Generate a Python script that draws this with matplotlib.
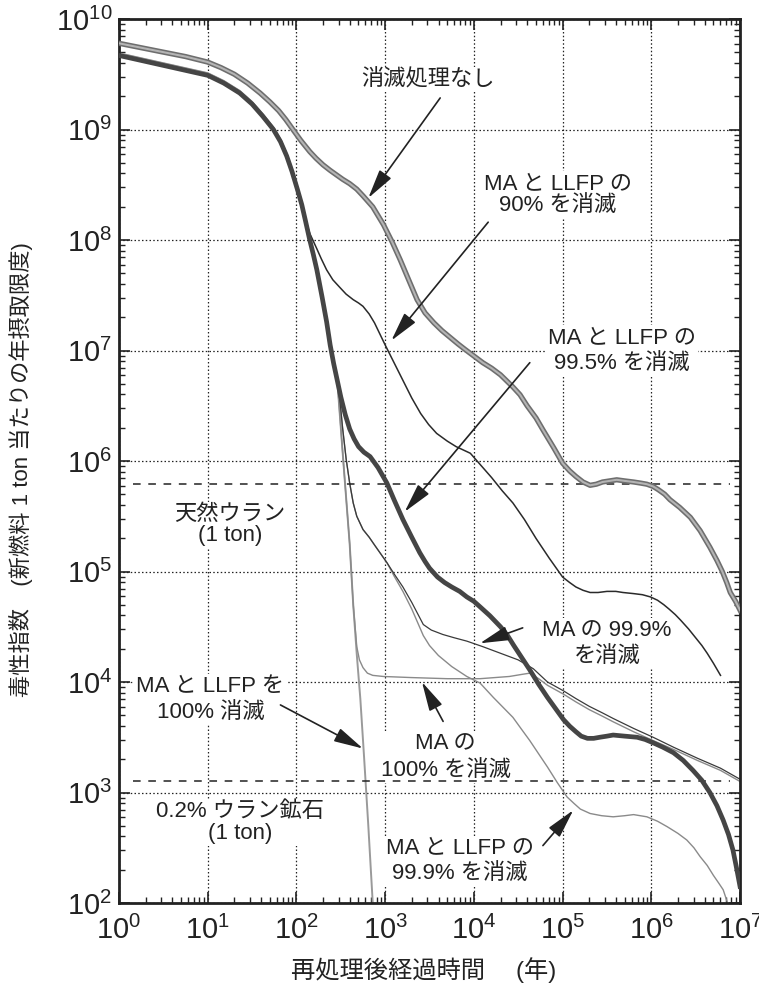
import matplotlib.pyplot as plt
from matplotlib import patheffects as pe
from matplotlib.ticker import LogLocator, NullFormatter
import numpy as np

plt.rcParams['font.family'] = ['Liberation Sans', 'Noto Sans CJK JP']
plt.rcParams['mathtext.fontset'] = 'custom'
plt.rcParams['mathtext.rm'] = 'Liberation Sans'
plt.rcParams['mathtext.it'] = 'Liberation Sans:italic'

# 経過時間 (log10 年) と毒性指数 (log10) の読み取り値
none_t = [0, 0.25, 0.5, 0.75, 1.0, 1.15, 1.3, 1.45, 1.59, 1.7, 1.8, 1.88, 1.96, 2.05,
          2.15, 2.22, 2.30, 2.38, 2.45, 2.52, 2.60, 2.68, 2.75, 2.86, 2.98, 3.08, 3.17,
          3.27, 3.36, 3.45, 3.55, 3.64, 3.73, 3.82, 3.9, 4.0, 4.1, 4.2, 4.3, 4.44, 4.52,
          4.6, 4.7, 4.78, 4.9, 5.0, 5.08, 5.15, 5.23, 5.31, 5.38, 5.45, 5.53, 5.61, 5.7,
          5.8, 5.88, 5.95, 6.02, 6.08, 6.15, 6.21, 6.32, 6.44, 6.55, 6.66, 6.74, 6.8,
          6.85, 6.89, 6.95, 7.0]
none_v = [9.78, 9.74, 9.70, 9.66, 9.61, 9.56, 9.50, 9.42, 9.33, 9.25, 9.17, 9.09, 9.0, 8.90,
          8.80, 8.74, 8.68, 8.63, 8.59, 8.55, 8.51, 8.46, 8.40, 8.30, 8.14, 7.98, 7.82,
          7.63, 7.46, 7.34, 7.25, 7.18, 7.12, 7.06, 7.01, 6.95, 6.89, 6.84, 6.78, 6.67, 6.60,
          6.50, 6.39, 6.28, 6.12, 5.98, 5.91, 5.86, 5.81, 5.78, 5.79, 5.81, 5.82, 5.83, 5.82,
          5.81, 5.80, 5.79, 5.77, 5.74, 5.70, 5.65, 5.58, 5.49, 5.37, 5.22, 5.10, 5.0,
          4.90, 4.81, 4.73, 4.65]

p90_t = [0, 0.25, 0.5, 0.75, 1.0, 1.18, 1.36, 1.5, 1.62, 1.74, 1.82, 1.89, 1.95, 2.01,
         2.06, 2.10, 2.15, 2.19, 2.23, 2.28, 2.34, 2.41, 2.49, 2.56, 2.64, 2.70, 2.75,
         2.82, 2.88, 2.94, 3.0, 3.1, 3.2, 3.3, 3.4, 3.49, 3.58, 3.7, 3.8, 3.88, 3.96,
         4.08, 4.2, 4.32, 4.44, 4.57, 4.7, 4.85, 5.0, 5.08, 5.15, 5.23, 5.31, 5.4, 5.5,
         5.6, 5.68, 5.8, 5.9, 5.99, 6.07, 6.14, 6.2, 6.27, 6.33, 6.42, 6.5, 6.57, 6.63,
         6.7, 6.78]
p90_v = [9.67, 9.625, 9.58, 9.535, 9.49, 9.42, 9.33, 9.23, 9.12, 9.0, 8.89, 8.76, 8.62, 8.46,
         8.32, 8.19, 8.06, 7.99, 7.92, 7.83, 7.73, 7.64, 7.57, 7.51, 7.46, 7.43, 7.40,
         7.33, 7.25, 7.15, 7.05, 6.89, 6.73, 6.57, 6.43, 6.33, 6.25, 6.18, 6.13, 6.10, 6.07,
         5.96, 5.85, 5.73, 5.62, 5.47, 5.30, 5.12, 4.95, 4.90, 4.86, 4.83, 4.81, 4.81, 4.82,
         4.82, 4.81, 4.80, 4.79, 4.77, 4.74, 4.70, 4.66, 4.61, 4.56, 4.48, 4.40, 4.33, 4.26,
         4.17, 4.06]

p995_t = [0, 0.25, 0.5, 0.75, 1.0, 1.18, 1.36, 1.5, 1.62, 1.74, 1.82, 1.89, 1.95, 2.01,
          2.06, 2.10, 2.15, 2.19, 2.23, 2.29, 2.34, 2.38, 2.42, 2.46, 2.5, 2.55, 2.6, 2.65,
          2.7, 2.76, 2.83, 2.92, 3.02, 3.1, 3.20, 3.3, 3.39, 3.45, 3.5, 3.59, 3.67, 3.75,
          3.84, 3.92, 4.0, 4.07, 4.18, 4.30, 4.38, 4.45, 4.54, 4.63, 4.73, 4.83, 4.92,
          5.01, 5.08, 5.15, 5.21, 5.28, 5.35, 5.42, 5.5, 5.57, 5.7, 5.84, 5.93, 6.02, 6.13,
          6.25, 6.36, 6.47, 6.57, 6.66, 6.74, 6.81, 6.87, 6.92, 6.96, 7.0]
p995_v = [9.67, 9.625, 9.58, 9.535, 9.49, 9.42, 9.33, 9.23, 9.12, 9.0, 8.89, 8.76, 8.62, 8.46,
          8.32, 8.18, 8.0, 7.87, 7.73, 7.48, 7.26, 7.05, 6.88, 6.73, 6.58, 6.42, 6.29, 6.20,
          6.13, 6.08, 6.04, 5.94, 5.80, 5.65, 5.47, 5.31, 5.17, 5.09, 5.03, 4.95, 4.90, 4.86,
          4.82, 4.77, 4.73, 4.68, 4.60, 4.50, 4.42, 4.33, 4.22, 4.11, 3.98, 3.86, 3.76,
          3.66, 3.60, 3.55, 3.51, 3.49, 3.49, 3.50, 3.51, 3.52, 3.51, 3.50, 3.48, 3.45, 3.41,
          3.36, 3.29, 3.20, 3.11, 3.0, 2.88, 2.75, 2.62, 2.48, 2.32, 2.15]

ma999_t = [0, 0.25, 0.5, 0.75, 1.0, 1.18, 1.36, 1.5, 1.62, 1.74, 1.82, 1.89, 1.95, 2.01,
           2.06, 2.10, 2.15, 2.19, 2.23, 2.29, 2.34, 2.38, 2.42, 2.46, 2.49, 2.52, 2.56,
           2.6, 2.64, 2.68, 2.75, 2.82, 2.88, 2.95, 3.02, 3.1, 3.2, 3.3, 3.43, 3.52, 3.65,
           3.78, 3.92, 4.1, 4.3, 4.5, 4.67, 4.83, 5.01, 5.15, 5.3, 5.45, 5.57, 5.8, 6.02,
           6.25, 6.52, 6.78, 7.0]
ma999_v = [9.68, 9.635, 9.59, 9.545, 9.50, 9.43, 9.34, 9.24, 9.13, 9.01, 8.90, 8.77, 8.63,
           8.47, 8.33, 8.19, 8.01, 7.88, 7.74, 7.49, 7.27, 7.06, 6.89, 6.74, 6.55, 6.30, 6.02,
           5.80, 5.62, 5.50, 5.38, 5.31, 5.24, 5.16, 5.08, 4.98, 4.86, 4.72, 4.52, 4.47, 4.43,
           4.40, 4.37, 4.32, 4.26, 4.20, 4.12, 4.0, 3.92, 3.85, 3.78, 3.72, 3.67, 3.58, 3.50,
           3.41, 3.31, 3.22, 3.12]

ma100_t = [0, 0.25, 0.5, 0.75, 1.0, 1.18, 1.36, 1.5, 1.62, 1.74, 1.82, 1.89, 1.95, 2.01,
           2.06, 2.10, 2.15, 2.19, 2.23, 2.29, 2.34, 2.38, 2.42, 2.46, 2.53, 2.6, 2.64,
           2.68, 2.71, 2.75, 2.8, 2.86, 2.98, 3.3, 3.7, 4.07, 4.4, 4.55, 4.63, 4.73, 4.83,
           5.01, 5.15, 5.3, 5.45, 5.57, 5.8, 6.02, 6.25, 6.52, 6.78, 7.0]
ma100_v = [9.69, 9.645, 9.60, 9.555, 9.51, 9.44, 9.35, 9.25, 9.14, 9.02, 8.91, 8.78, 8.64,
           8.48, 8.34, 8.20, 8.02, 7.89, 7.75, 7.50, 7.28, 7.06, 6.89, 6.73, 5.98, 5.25,
           4.70, 4.32, 4.20, 4.13, 4.08, 4.06, 4.05, 4.04, 4.03, 4.03, 4.05, 4.07, 4.08,
           4.03, 3.97, 3.89, 3.82, 3.75, 3.69, 3.64, 3.55, 3.47, 3.39, 3.29, 3.20, 3.10]

all999_t = [0, 0.25, 0.5, 0.75, 1.0, 1.18, 1.36, 1.5, 1.62, 1.74, 1.82, 1.89, 1.95, 2.01,
            2.06, 2.10, 2.15, 2.19, 2.23, 2.29, 2.34, 2.38, 2.42, 2.46, 2.49, 2.52, 2.56,
            2.6, 2.64, 2.68, 2.75, 2.82, 2.88, 2.95, 3.02, 3.1, 3.2, 3.3, 3.43, 3.5, 3.6,
            3.75, 3.92, 4.07, 4.22, 4.33, 4.44, 4.53, 4.63, 4.73, 4.83, 4.94, 5.05, 5.13,
            5.2, 5.31, 5.44, 5.57, 5.7, 5.8, 5.95, 6.07, 6.18, 6.3, 6.40, 6.48, 6.55, 6.63,
            6.7, 6.76, 6.81, 6.86]
all999_v = [9.68, 9.635, 9.59, 9.545, 9.50, 9.43, 9.34, 9.24, 9.13, 9.01, 8.90, 8.77, 8.63,
            8.47, 8.33, 8.19, 8.01, 7.88, 7.74, 7.49, 7.27, 7.06, 6.89, 6.74, 6.55, 6.30,
            6.02, 5.80, 5.62, 5.50, 5.38, 5.31, 5.24, 5.16, 5.08, 4.96, 4.82, 4.66, 4.42,
            4.33, 4.24, 4.14, 4.05, 3.99, 3.86, 3.77, 3.68, 3.58, 3.47, 3.35, 3.23, 3.09,
            2.96, 2.90, 2.85, 2.81, 2.79, 2.78, 2.79, 2.80, 2.78, 2.74, 2.69, 2.63, 2.57,
            2.50, 2.42, 2.34, 2.25, 2.18, 2.12, 2.0]

all100_t = [0, 0.25, 0.5, 0.75, 1.0, 1.18, 1.36, 1.5, 1.62, 1.74, 1.82, 1.89, 1.95, 2.01,
            2.06, 2.10, 2.15, 2.19, 2.23, 2.29, 2.34, 2.38, 2.42, 2.46, 2.53, 2.6, 2.64,
            2.68, 2.72, 2.76, 2.81, 2.86]
all100_v = [9.69, 9.645, 9.60, 9.555, 9.51, 9.44, 9.35, 9.25, 9.14, 9.02, 8.91, 8.78, 8.64,
            8.48, 8.34, 8.20, 8.02, 7.89, 7.75, 7.50, 7.28, 7.06, 6.89, 6.73, 5.98, 5.25,
            4.70, 4.25, 3.85, 3.35, 2.70, 2.0]

# 比較用の天然ウラン / ウラン鉱石のレベル
natural_u = 6.2e5
uranium_ore = 1.26e3
ref_span = [1.45, 7.8e6]

fig = plt.figure(figsize=(7.59, 10), dpi=100)
ax = fig.add_axes([0.1568, 0.097, 0.8182, 0.884])


def lg(a):
    return 10.0 ** np.asarray(a)


ax.plot(lg(none_t), lg(none_v), color='#b4b4b4', lw=1.5, zorder=3,
        path_effects=[pe.Stroke(linewidth=3.8, foreground='#6e6e6e'), pe.Normal()])
ax.plot(lg(all100_t), lg(all100_v), color='#9a9a9a', lw=1.4, zorder=2)
ax.plot(lg(all999_t), lg(all999_v), color='#8a8a8a', lw=1.0, zorder=2)
ax.plot(lg(ma100_t), lg(ma100_v), color='#8a8a8a', lw=1.0, zorder=2)
ax.plot(lg(ma999_t), lg(ma999_v), color='#3a3a3a', lw=0.9, zorder=2)
ax.plot(lg(p90_t), lg(p90_v), color='#2a2a2a', lw=1.1, zorder=2)
ax.plot(lg(p995_t), lg(p995_v), color='#454545', lw=3.4, zorder=3)

ax.hlines([natural_u, uranium_ore], ref_span[0], ref_span[1], colors='#222222',
          linestyles=(0, (5, 5)), lw=1.1, zorder=2)

ax.set_xscale('log')
ax.set_yscale('log')
ax.set_xlim(1, 1e7)
ax.set_ylim(1e2, 1e10)
ax.xaxis.set_major_locator(LogLocator(base=10, numticks=20))
ax.yaxis.set_major_locator(LogLocator(base=10, numticks=20))
ax.xaxis.set_minor_locator(LogLocator(base=10, subs=np.arange(2, 10), numticks=40))
ax.yaxis.set_minor_locator(LogLocator(base=10, subs=np.arange(2, 10), numticks=40))
ax.xaxis.set_minor_formatter(NullFormatter())
ax.yaxis.set_minor_formatter(NullFormatter())

ax.set_axisbelow(True)
ax.grid(True, which='major', color='#222222', linestyle=(0, (1.2, 1.8)), lw=0.9)
ax.tick_params(which='both', direction='in', top=True, right=True, colors='#222222')
ax.tick_params(which='major', length=8, width=1.2, labelsize=21)
ax.tick_params(which='minor', length=4.5, width=1.0)
ax.tick_params(axis='x', which='major', pad=9)
ax.tick_params(axis='y', which='major', pad=5)
for s in ax.spines.values():
    s.set_linewidth(2.0)
    s.set_color('#222222')

ax.set_xlabel('再処理後経過時間　 (年)', fontsize=17.5, color='#222222')
ax.set_ylabel('毒性指数　(新燃料 1 ton 当たりの年摂取限度)', fontsize=16, color='#222222')
ax.xaxis.set_label_coords(0.49, -0.061)
ax.yaxis.set_label_coords(-0.139, 0.49)

box = dict(facecolor='white', edgecolor='none', pad=1.5)
txt = dict(fontsize=16, ha='center', va='center', color='#222222', zorder=1.5, bbox=box)
ax.text(3020, 2.82e9, '消滅処理なし', **txt)
ax.text(8.9e4, 2.57e8, 'MA と LLFP の\n90% を消滅', linespacing=1.05, **txt)
ax.text(4.68e5, 1.0e7, 'MA と LLFP の\n99.5% を消滅', linespacing=1.35, **txt)
ax.text(17.8, 2.63e5, '天然ウラン\n(1 ton)', linespacing=1.05, **txt)
ax.text(3.16e5, 2.24e4, 'MA の 99.9%\nを消滅', linespacing=1.3, **txt)
ax.text(10.7, 6.9e3, 'MA と LLFP を\n100% 消滅', linespacing=1.3, **txt)
ax.text(4.8e3, 2.1e3, 'MA の\n100% を消滅', linespacing=1.35, **txt)
ax.text(23, 537, '0.2% ウラン鉱石\n(1 ton)', linespacing=1.05, **txt)
ax.text(6.9e3, 240, 'MA と LLFP の\n99.9% を消滅', linespacing=1.3, **txt)

arrow = dict(arrowstyle='-|>,head_length=0.9,head_width=0.22', color='#222222',
             lw=1.2, mutation_scale=20, shrinkA=0, shrinkB=0)
arrows = [
    ((646, 2.4e8), (4170, 1.93e9)),
    ((1175, 1.23e7), (1.45e4, 1.45e8)),
    ((1660, 3.47e5), (4.27e4, 7.76e6)),
    ((1.17e4, 2.24e4), (3.55e4, 3.09e4)),
    ((562, 2.5e3), (66, 6.2e3)),
    ((2.6e3, 1.0e4), (4.5e3, 4.4e3)),
    ((1.32e5, 692), (6.0e4, 331)),
]
for tip, tail in arrows:
    ax.annotate('', xy=tip, xytext=tail, arrowprops=arrow, zorder=4)

fig.savefig('out.png', dpi=100)
